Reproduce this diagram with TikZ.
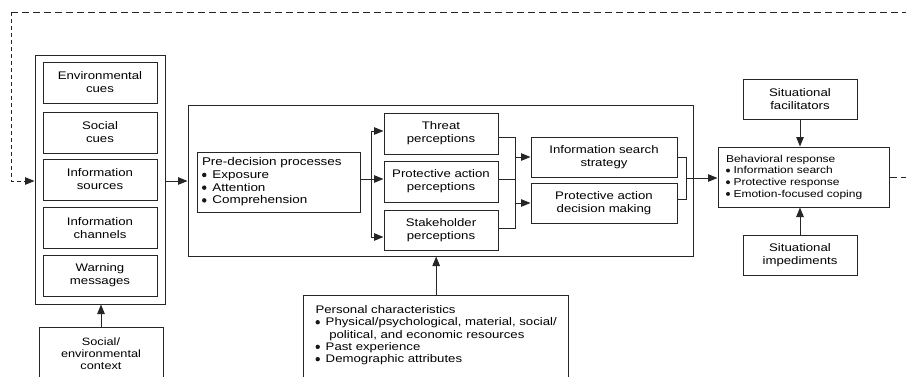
\documentclass[tikz,border=0pt]{standalone}
\usepackage{fontspec}
\setmainfont{Liberation Sans}[FakeStretch=1.2]
\usetikzlibrary{arrows.meta}
\newcommand\bul[1][0.93em]{\makebox[#1][l]{\tikz[baseline=0pt]\fill[black!90] (0.2em,0.32em) circle (0.2em);}}

\tikzset{
  ln/.style={draw=black!85, line width=1pt},
  box/.style={ln, inner sep=0pt, align=center, font=\fontsize{11}{13}\selectfont},
  sbox/.style={box, minimum width=114pt, minimum height=41pt},
  arr/.style={ln, -{Triangle[length=9.5pt,width=7.5pt]}},
  loop/.style={ln, dash pattern=on 7pt off 4pt},
  loopv/.style={ln, dash pattern=on 4pt off 3pt},
}

\begin{document}
\begin{tikzpicture}[x=1pt,y=-1pt]
\useasboundingbox (0,0) rectangle (906,376);

\node[box, minimum width=130pt, minimum height=249pt] (src) at (100,179.5) {};
\node[sbox] (env) at (100,82.5) {Environmental\\cues};
\node[sbox] (soc) at (100,132.5) {Social\\cues};
\node[sbox] (isrc) at (100,179.5) {Information\\sources};
\node[sbox] (ich) at (100,228) {Information\\channels};
\node[sbox] (warn) at (100,275.5) {Warning\\messages};
\node[box, anchor=north, minimum width=124pt, inner ysep=10pt, font=\fontsize{10.6}{12}\selectfont] (ctx) at (101,327)
  {Social/\\environmental\\context\rule[-30pt]{0pt}{0pt}};

\node[box, minimum width=505pt, minimum height=151pt] (pdm) at (440.5,180.5) {};
\node[box, align=left, text width=153pt, inner xsep=5pt, minimum height=60pt, font=\fontsize{11.2}{12.7}\selectfont] (pre) at (278.5,182)
  {Pre-decision processes\\\bul Exposure\\\bul Attention\\\bul Comprehension};
\node[sbox] (threat) at (441,133.5) {Threat\\perceptions};
\node[sbox] (protp) at (441,181.5) {Protective action\\perceptions};
\node[sbox, minimum height=40pt] (stake) at (441,230) {Stakeholder\\perceptions};
\node[sbox, minimum width=146pt, minimum height=40pt] (iss) at (604,157) {Information search\\strategy};
\node[sbox, minimum width=146pt, minimum height=40pt] (padm) at (604,203) {Protective action\\decision making};

\node[box, align=left, text width=155pt, inner xsep=8pt, minimum height=60pt, font=\fontsize{10}{11.7}\selectfont] (beh) at (803.5,177)
  {Behavioral response\\\bul[0.75em]Information search\\\bul[0.75em]Protective response\\\bul[0.75em]Emotion-focused coping};
\node[sbox, minimum height=40pt] (fac) at (800,99) {Situational\\facilitators};
\node[sbox, minimum height=40pt] (imp) at (800,255) {Situational\\impediments};

\node[box, align=left, anchor=north west, inner xsep=12pt, inner ysep=10pt, font=\fontsize{11}{12.3}\selectfont] (pers) at (303,295)
  {Personal characteristics\\\bul Physical/psychological, material, social/\\\hspace*{1.25em}political, and economic resources\\\bul Past experience\\\bul Demographic attributes\rule[-30pt]{0pt}{0pt}};

\coordinate (fb) at (11,181);
\draw[loop] (11,12) -- (906,12);
\draw[loopv, -{Triangle[length=9.5pt,width=7.5pt]}] (11,12) -- (fb) -- (fb -| src.west);
\draw[loop] (beh.east) -- ++(20,0);

\draw[arr] (fb -| src.east) -- (fb -| pdm.west);
\draw[arr] (ctx.north) -- (ctx.north |- src.south);
\draw[arr] (pers.north) -- (pers.north |- pdm.south);

\coordinate (b0) at (371,131);
\coordinate (b1) at (371,179);
\coordinate (b2) at (371,237);
\draw[ln] (pre.east |- b1) -- (b1);
\draw[ln] (b0) -- (b2);
\draw[arr] (b0) -- (b0 -| threat.west);
\draw[arr] (b1) -- (b1 -| protp.west);
\draw[arr] (b2) -- (b2 -| stake.west);

\coordinate (m0) at (515,137);
\coordinate (m1) at (515,179);
\coordinate (m2) at (515,228);
\coordinate (m3) at (515,157);
\coordinate (m4) at (515,203);
\draw[ln] (m0 -| threat.east) -- (m0) -- (m2) -- (m2 -| stake.east);
\draw[ln] (m1 -| protp.east) -- (m1);
\draw[arr] (m3) -- (m3 -| iss.west);
\draw[arr] (m4) -- (m4 -| padm.west);

\coordinate (r0) at (686,157);
\coordinate (r1) at (686,199);
\coordinate (r2) at (686,178);
\draw[ln] (r0 -| iss.east) -- (r0) -- (r1) -- (r1 -| padm.east);
\draw[arr] (r2) -- (r2 -| beh.west);

\draw[arr] (fac.south) -- (fac.south |- beh.north);
\draw[arr] (imp.north) -- (imp.north |- beh.south);
\end{tikzpicture}
\end{document}
